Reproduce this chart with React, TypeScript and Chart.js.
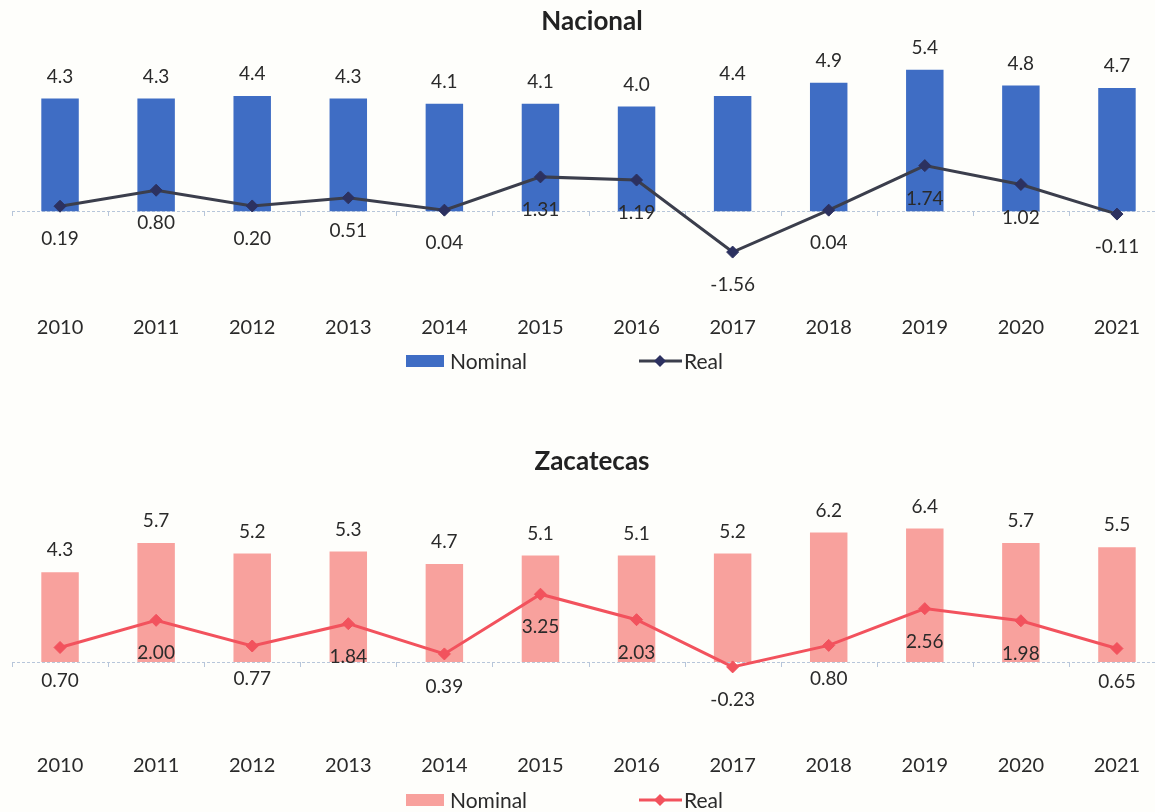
import React, { useEffect, useRef } from "react";
import { Chart, registerables } from "chart.js";

Chart.register(...registerables);

// ---- data ----
const years = ["2010", "2011", "2012", "2013", "2014", "2015", "2016", "2017", "2018", "2019", "2020", "2021"];

const nacionalNominal = [4.3, 4.3, 4.4, 4.3, 4.1, 4.1, 4.0, 4.4, 4.9, 5.4, 4.8, 4.7];
const nacionalReal = [0.19, 0.8, 0.2, 0.51, 0.04, 1.31, 1.19, -1.56, 0.04, 1.74, 1.02, -0.11];

const zacatecasNominal = [4.3, 5.7, 5.2, 5.3, 4.7, 5.1, 5.1, 5.2, 6.2, 6.4, 5.7, 5.5];
const zacatecasReal = [0.7, 2.0, 0.77, 1.84, 0.39, 3.25, 2.03, -0.23, 0.8, 2.56, 1.98, 0.65];

const nacionalTitle = "Nacional";
const zacatecasTitle = "Zacatecas";
const nominalLabel = "Nominal";
const realLabel = "Real";

const FONT = "Lato, 'Open Sans', sans-serif";
const TEXT = "#2a2a2a";
const BG = "#fefefb";

type PanelProps = {
  height: number;
  title: string;
  nominal: number[];
  real: number[];
  barColor: string;
  lineColor: string;
  pointColor: string;
  yMin: number;
  yMax: number;
  padTop: number;
  padBottom: number;
  legendY: number;
};

function diamond(ctx: CanvasRenderingContext2D, x: number, y: number, r: number) {
  ctx.beginPath();
  ctx.moveTo(x, y - r);
  ctx.lineTo(x + r, y);
  ctx.lineTo(x, y + r);
  ctx.lineTo(x - r, y);
  ctx.closePath();
  ctx.fill();
}

function ChartPanel(p: PanelProps) {
  const ref = useRef<HTMLCanvasElement>(null);

  useEffect(() => {
    if (!ref.current) return;

    const overlay = {
      id: "overlay",
      beforeDraw(chart: any) {
        const ctx = chart.ctx as CanvasRenderingContext2D;
        ctx.save();
        ctx.fillStyle = BG;
        ctx.fillRect(0, 0, chart.width, chart.height);
        ctx.restore();
      },
      beforeDatasetsDraw(chart: any) {
        const ctx = chart.ctx as CanvasRenderingContext2D;
        const y0 = chart.scales.y.getPixelForValue(0);
        const xs = chart.scales.x;
        const { left, right } = chart.chartArea;
        ctx.save();
        ctx.strokeStyle = "#b7c6da";
        ctx.lineWidth = 1;
        ctx.setLineDash([3, 2]);
        ctx.beginPath();
        ctx.moveTo(left, Math.round(y0) + 0.5);
        ctx.lineTo(right, Math.round(y0) + 0.5);
        ctx.stroke();
        ctx.setLineDash([]);
        const n = years.length;
        const step = xs.getPixelForValue(1) - xs.getPixelForValue(0);
        for (let i = 0; i <= n; i++) {
          const x = i < n ? xs.getPixelForValue(i) - step / 2 : right;
          ctx.beginPath();
          ctx.moveTo(Math.round(x) + 0.5, Math.round(y0));
          ctx.lineTo(Math.round(x) + 0.5, Math.round(y0) + 5);
          ctx.stroke();
        }
        ctx.restore();
      },
      afterDatasetsDraw(chart: any) {
        const ctx = chart.ctx as CanvasRenderingContext2D;
        ctx.save();
        ctx.fillStyle = TEXT;
        ctx.font = `19px ${FONT}`;
        ctx.textAlign = "center";
        ctx.textBaseline = "middle";
        const barMeta = chart.getDatasetMeta(0);
        barMeta.data.forEach((el: any, i: number) => {
          ctx.fillText(p.nominal[i].toFixed(1), el.x, el.y - 22);
        });
        const lineMeta = chart.getDatasetMeta(1);
        lineMeta.data.forEach((el: any, i: number) => {
          ctx.fillText(p.real[i].toFixed(2), el.x, el.y + 33);
        });
        ctx.restore();
      },
      afterDraw(chart: any) {
        const ctx = chart.ctx as CanvasRenderingContext2D;
        ctx.save();
        // title
        ctx.fillStyle = "#222222";
        ctx.font = `bold 26px ${FONT}`;
        ctx.textAlign = "center";
        ctx.textBaseline = "middle";
        ctx.fillText(p.title, 592, 22);
        // legend
        const ly = p.legendY;
        ctx.fillStyle = p.barColor;
        ctx.fillRect(406, ly - 6, 38, 12);
        ctx.fillStyle = TEXT;
        ctx.font = `21px ${FONT}`;
        ctx.textAlign = "left";
        ctx.fillText(nominalLabel, 450, ly + 1);
        ctx.strokeStyle = p.lineColor;
        ctx.lineWidth = 3;
        ctx.beginPath();
        ctx.moveTo(639, ly);
        ctx.lineTo(682, ly);
        ctx.stroke();
        ctx.fillStyle = p.pointColor;
        diamond(ctx, 660, ly, 6);
        ctx.fillStyle = TEXT;
        ctx.fillText(realLabel, 684, ly + 1);
        ctx.restore();
      },
    };

    const chart = new Chart(ref.current, {
      data: {
        labels: years,
        datasets: [
          {
            type: "bar",
            label: nominalLabel,
            data: p.nominal,
            backgroundColor: p.barColor,
            barPercentage: 0.39,
            categoryPercentage: 1,
            order: 1,
          },
          {
            type: "line",
            label: realLabel,
            data: p.real,
            borderColor: p.lineColor,
            borderWidth: 3,
            pointStyle: "rectRot",
            pointRadius: 6,
            pointBackgroundColor: p.pointColor,
            pointBorderColor: p.pointColor,
            pointBorderWidth: 1,
            tension: 0,
            order: 0,
          },
        ],
      } as any,
      options: {
        animation: false,
        responsive: false,
        maintainAspectRatio: false,
        devicePixelRatio: 1,
        layout: { padding: { top: p.padTop, left: 12, right: 0, bottom: p.padBottom } },
        plugins: {
          legend: { display: false },
          title: { display: false },
          tooltip: { enabled: false },
        },
        scales: {
          x: {
            offset: true,
            grid: { display: false, drawTicks: false },
            border: { display: false },
            ticks: { font: { family: FONT, size: 20 }, color: TEXT, padding: 0 },
          },
          y: {
            min: p.yMin,
            max: p.yMax,
            grid: { display: false, drawTicks: false },
            border: { display: false },
            ticks: { display: false },
          },
        },
      },
      plugins: [overlay],
    });

    return () => chart.destroy();
  }, []);

  return <canvas ref={ref} width={1172} height={p.height} style={{ display: "block" }} />;
}

export default function App() {
  return (
    <div
      style={{
        position: "fixed",
        left: 0,
        top: 0,
        width: 1155,
        height: 812,
        overflow: "hidden",
        background: BG,
      }}
    >
      <ChartPanel
        height={440}
        title={nacionalTitle}
        nominal={nacionalNominal}
        real={nacionalReal}
        barColor="#3f6dc4"
        lineColor="#3b3e4c"
        pointColor="#2c3160"
        yMin={-4}
        yMax={6}
        padTop={54}
        padBottom={100}
        legendY={361}
      />
      <ChartPanel
        height={372}
        title={zacatecasTitle}
        nominal={zacatecasNominal}
        real={zacatecasReal}
        barColor="#f8a19d"
        lineColor="#f2525d"
        pointColor="#f2525d"
        yMin={-4.4}
        yMax={8}
        padTop={55}
        padBottom={34}
        legendY={360}
      />
    </div>
  );
}
